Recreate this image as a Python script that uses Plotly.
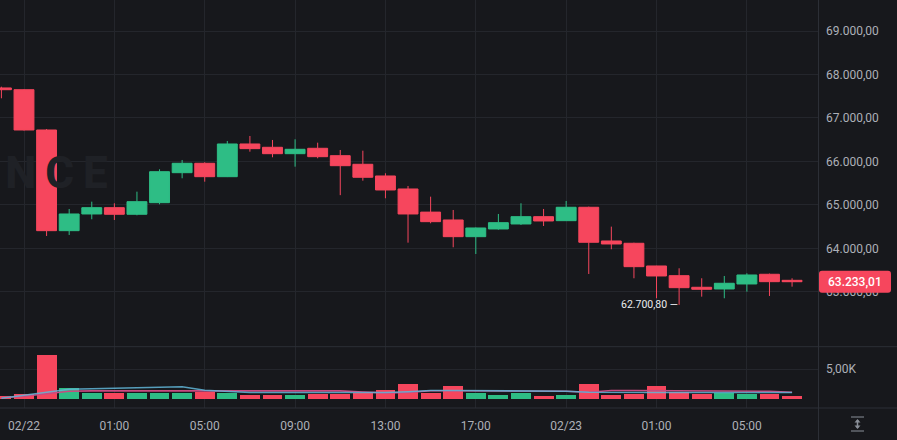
import plotly.graph_objects as go

# ---------------- data ----------------
idx = list(range(-1, 35))  # candle index, 0 = "02/22" candle (1h candles)
opens = [67690, 67650, 66723, 64407, 64791, 64936, 64784, 65051, 65741, 65957,
         65649, 66401, 66325, 66178, 66302, 66132, 65934, 65665, 65366, 64834,
         64653, 64269, 64446, 64561, 64729, 64637, 64945, 64170, 64117, 63595,
         63372, 63105, 63066, 63181, 63404, 63265]
highs = [67719, 67660, 66746, 64906, 65074, 65037, 65304, 65819, 66033, 65980,
         66470, 66585, 66493, 66509, 66431, 66263, 66247, 65727, 65435, 65189,
         64883, 64480, 64791, 65037, 64906, 65090, 64960, 64500, 64130, 63600,
         63542, 63312, 63365, 63427, 63420, 63312]
lows = [67452, 66710, 64285, 64308, 64669, 64653, 64760, 65014, 65612, 65534,
        65640, 66224, 66095, 65879, 66072, 65224, 65557, 65152, 64131, 64577,
        64025, 63871, 64430, 64538, 64515, 64630, 63411, 63979, 63312, 62852,
        62700.80, 62889, 62852, 63004, 62905, 63119]
closes = [67650, 66723, 64407, 64791, 64936, 64784, 65074, 65764, 65957, 65649,
          66401, 66294, 66178, 66279, 66109, 65902, 65635, 65343, 64791, 64614,
          64269, 64469, 64591, 64729, 64630, 64945, 64140, 64101, 63579, 63365,
          63096, 63059, 63197, 63388, 63234, 63233.01]
volumes = [550, 950, 7330, 1950, 1000, 1000, 1000, 1000, 1000, 1200,
           1050, 780, 670, 780, 830, 950, 1110, 1610, 2610, 1110,
           2220, 1050, 780, 1110, 550, 670, 2500, 780, 950, 2170,
           1220, 950, 1110, 950, 950, 500]
vol_ma_fast = [170, 670, 1170, 1670, 1750, 1830, 1920, 2000, 2080, 1500,
               1250, 1120, 1120, 1120, 1120, 1120, 1120, 1120, 1250, 1450,
               1450, 1450, 1450, 1450, 1450, 1330, 1170, 1120, 1120, 1120,
               1120, 1120, 1120, 1120, 1120, 1120]
vol_ma_slow = [250, 500, 920, 1330, 1380, 1380, 1380, 1380, 1380, 1380,
               1380, 1380, 1380, 1380, 1380, 1380, 1200, 1050, 1120, 1420,
               1420, 1420, 1420, 1420, 1420, 1330, 1170, 1450, 1450, 1450,
               1450, 1450, 1450, 1450, 1330, 1170]
time_tick_pos = [0, 4, 8, 12, 16, 20, 24, 28, 32]
time_tick_labels = ["02/22", "01:00", "05:00", "09:00", "13:00", "17:00", "02/23", "01:00", "05:00"]
price_ticks = [63000, 64000, 65000, 66000, 67000, 68000, 69000]
vol_ticks = [5000]
vol_tick_labels = ["5,00K"]
watermark = "NCE"

# ---------------- style ----------------
W, H = 897, 440
BG = "#17181c"
GRID = "#24262c"
SEP = "#2c2f36"
UP = "#2ebd85"
DOWN = "#f6465d"
TXT = "#adb0b8"
FONT = "Roboto"

X_RANGE = [-1.0624, 35.148]
P_RANGE = [61738, 69713]
V_RANGE = [-1467, 8702]
X_DOM = [0, 818 / W]
P_DOM = [1 - 346.7 / H, 1]
V_DOM = [1 - 408 / H, 1 - 347 / H]


def fmt_eu(v):
    s = f"{v:,.2f}"
    return s.replace(",", "X").replace(".", ",").replace("X", ".")


def price_to_paper(v):
    f = (v - P_RANGE[0]) / (P_RANGE[1] - P_RANGE[0])
    return P_DOM[0] + f * (P_DOM[1] - P_DOM[0])


vol_colors = [UP if c >= o else DOWN for o, c in zip(opens, closes)]

fig = go.Figure()

# watermark (behind candles)
fig.add_trace(go.Scatter(
    x=[-0.83], y=[65640], mode="text", text=["\u2009".join(watermark)],
    textposition="middle right",
    textfont=dict(family=FONT, size=44, color="#1f2126", weight=800),
    hoverinfo="skip", showlegend=False, xaxis="x", yaxis="y"))

fig.add_trace(go.Candlestick(
    x=idx, open=opens, high=highs, low=lows, close=closes,
    increasing=dict(line=dict(color=UP, width=1), fillcolor=UP),
    decreasing=dict(line=dict(color=DOWN, width=1), fillcolor=DOWN),
    whiskerwidth=0, showlegend=False, xaxis="x", yaxis="y"))

fig.add_trace(go.Bar(
    x=idx, y=volumes, marker=dict(color=vol_colors, line=dict(width=0)),
    width=0.88, showlegend=False, xaxis="x2", yaxis="y2"))
fig.add_trace(go.Scatter(
    x=idx, y=vol_ma_slow, mode="lines", line=dict(color="#c94a80", width=1.6),
    showlegend=False, xaxis="x2", yaxis="y2"))
fig.add_trace(go.Scatter(
    x=idx, y=vol_ma_fast, mode="lines", line=dict(color="#62b6d8", width=1.6),
    opacity=0.85, showlegend=False, xaxis="x2", yaxis="y2"))

axis_common = dict(showline=False, zeroline=False, ticks="")
fig.update_layout(
    width=W, height=H, margin=dict(l=0, r=0, t=0, b=0),
    paper_bgcolor=BG, plot_bgcolor=BG,
    separators=",.",
    font=dict(family=FONT, size=12, color=TXT),
    boxgap=0.12, boxgroupgap=0,
    bargap=0,
    xaxis=dict(domain=X_DOM, range=X_RANGE, anchor="y", showticklabels=False,
               tickvals=time_tick_pos, showgrid=True, gridcolor=GRID,
               rangeslider=dict(visible=False), **axis_common),
    yaxis=dict(domain=P_DOM, range=P_RANGE, anchor="x", side="right",
               tickvals=price_ticks, tickformat=",.2f", showgrid=True, gridcolor=GRID,
               ticklabelstandoff=7, **axis_common),
    xaxis2=dict(domain=X_DOM, range=X_RANGE, anchor="y2", matches="x",
                tickvals=time_tick_pos, ticktext=time_tick_labels,
                showgrid=True, gridcolor=GRID, ticklabelstandoff=9, **axis_common),
    yaxis2=dict(domain=V_DOM, range=V_RANGE, anchor="x2", side="right",
                tickvals=vol_ticks, ticktext=vol_tick_labels, showgrid=True,
                gridcolor=GRID, ticklabelstandoff=7, **axis_common),
)

shapes = []
# pane separators
for yp in [346.7, 408]:
    shapes.append(dict(type="line", xref="paper", yref="paper", x0=0, x1=1,
                       y0=1 - yp / H, y1=1 - yp / H, line=dict(color=SEP, width=1)))
shapes.append(dict(type="line", xref="paper", yref="paper", x0=818.5 / W, x1=818.5 / W,
                   y0=0, y1=1, line=dict(color=SEP, width=1)))

# last price box (rounded)
last = closes[-1]
yc = price_to_paper(last)
hh = 11 / H
x0, x1 = 819 / W, 891 / W
y0, y1 = yc - hh, yc + hh
rx, ry = 3 / W, 3 / H
path = (f"M{x0+rx},{y1} L{x1-rx},{y1} Q{x1},{y1} {x1},{y1-ry} L{x1},{y0+ry} "
        f"Q{x1},{y0} {x1-rx},{y0} L{x0+rx},{y0} Q{x0},{y0} {x0},{y0+ry} "
        f"L{x0},{y1-ry} Q{x0},{y1} {x0+rx},{y1} Z")
shapes.append(dict(type="path", xref="paper", yref="paper", path=path,
                   fillcolor=DOWN, line=dict(width=0), layer="above"))

# resize icon bottom-right
ic = "#8a8f98"
shapes.append(dict(type="line", xref="paper", yref="paper", x0=851 / W, x1=864 / W,
                   y0=1 - 417 / H, y1=1 - 417 / H, line=dict(color=ic, width=1)))
shapes.append(dict(type="line", xref="paper", yref="paper", x0=851 / W, x1=864 / W,
                   y0=1 - 431 / H, y1=1 - 431 / H, line=dict(color=ic, width=1)))
shapes.append(dict(type="line", xref="paper", yref="paper", x0=857.5 / W, x1=857.5 / W,
                   y0=1 - 420 / H, y1=1 - 428 / H, line=dict(color=ic, width=1.5)))
shapes.append(dict(type="path", xref="paper", yref="paper",
                   path=f"M{854.5/W},{1-422.5/H} L{857.5/W},{1-419/H} L{860.5/W},{1-422.5/H} Z",
                   fillcolor=ic, line=dict(width=0)))
shapes.append(dict(type="path", xref="paper", yref="paper",
                   path=f"M{854.5/W},{1-425.5/H} L{857.5/W},{1-429/H} L{860.5/W},{1-425.5/H} Z",
                   fillcolor=ic, line=dict(width=0)))
fig.update_layout(shapes=shapes)

# annotations
lo_i = min(range(len(lows)), key=lambda k: lows[k])
fig.add_annotation(x=idx[lo_i], y=lows[lo_i], xref="x", yref="y",
                   text=fmt_eu(lows[lo_i]) + " —", showarrow=False,
                   xanchor="right", yanchor="middle", xshift=1,
                   font=dict(family=FONT, size=10.5, color="#eaecef"))
fig.add_annotation(x=855 / W, y=last, xref="paper", yref="y",
                   text=fmt_eu(last), showarrow=False, xanchor="center", yanchor="middle",
                   font=dict(family=FONT, size=12, color="#ffffff", weight=500))

fig.write_html("out.html")
